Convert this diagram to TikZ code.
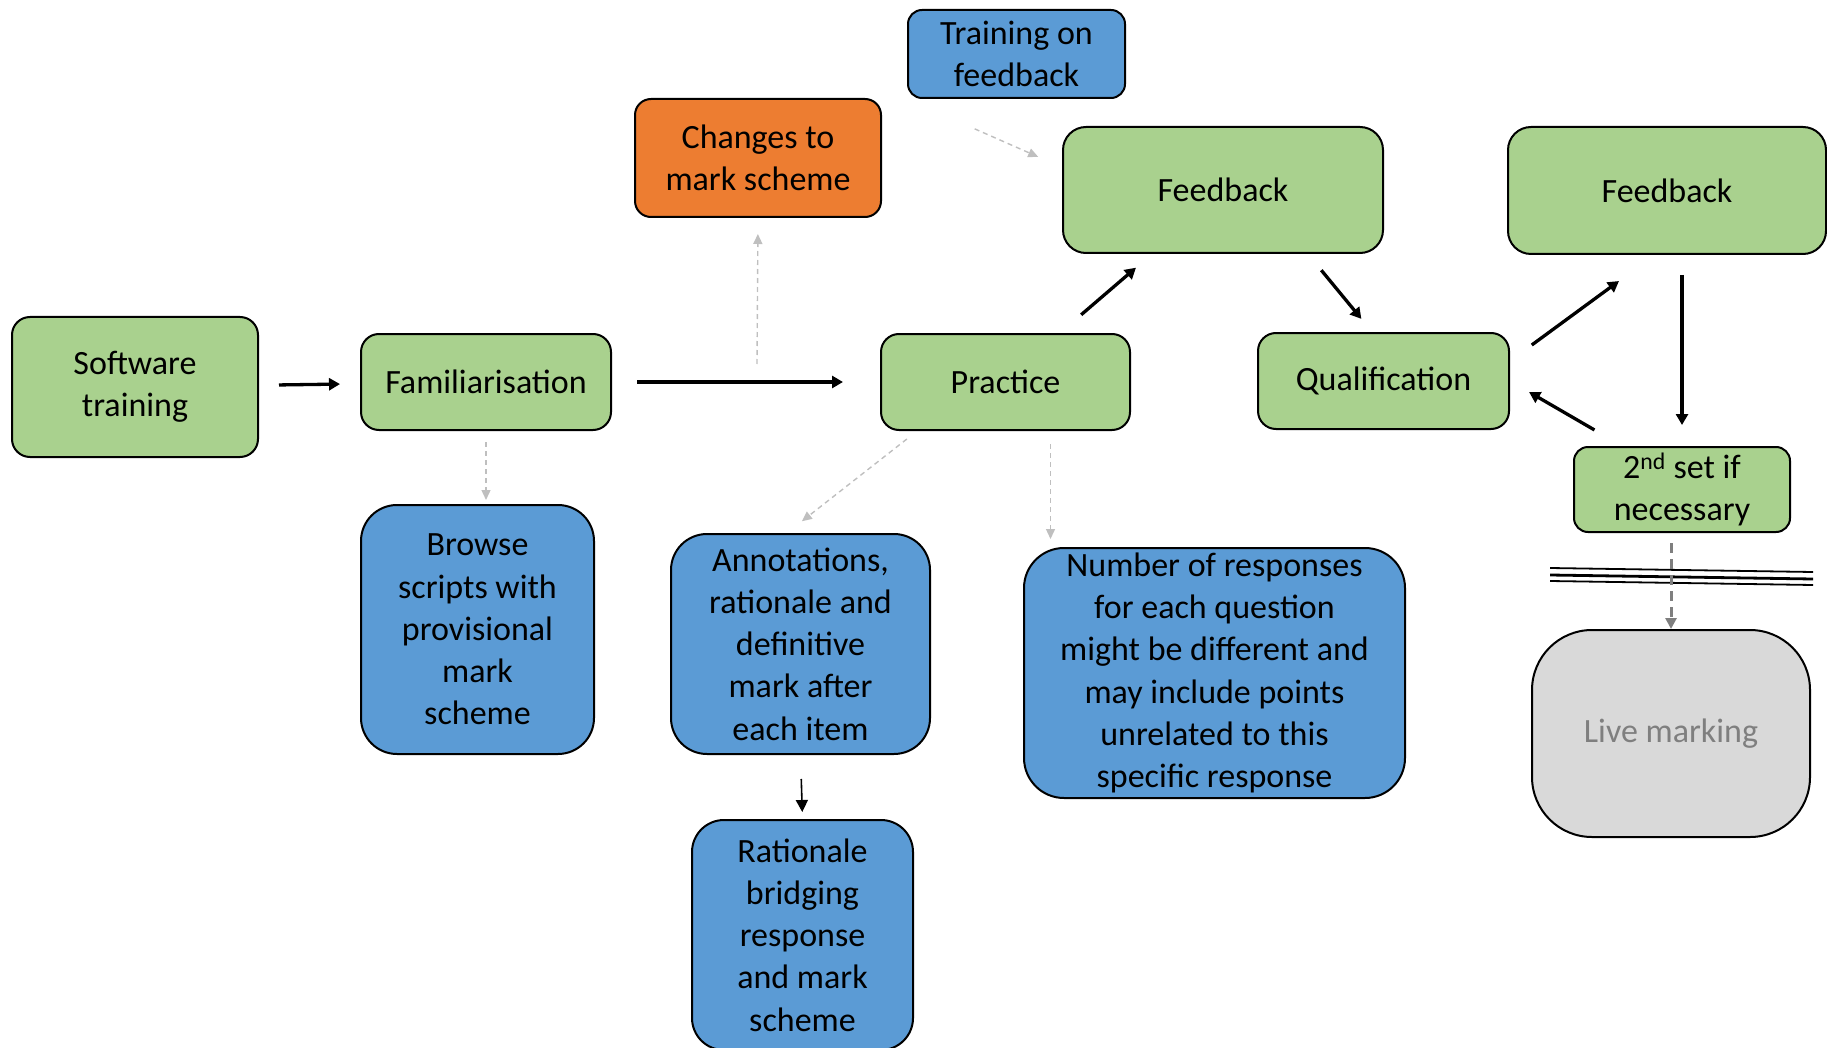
\documentclass[tikz,border=0pt]{standalone}
\usepackage{fontspec}
\setmainfont{Carlito}
\usetikzlibrary{arrows.meta}
\definecolor{stagegreen}{HTML}{A9D18E}
\definecolor{infoblue}{HTML}{5B9BD5}
\definecolor{changeorange}{HTML}{ED7D31}
\definecolor{livefill}{HTML}{D9D9D9}
\definecolor{asidegrey}{HTML}{BFBFBF}
\definecolor{livegrey}{HTML}{7F7F7F}
\begin{document}
\begin{tikzpicture}[x=1pt,y=-1pt,
        box/.style={draw=black,line width=2pt,align=center,inner sep=0pt,
            font=\fontsize{34}{42.2}\selectfont},
        stage/.style={box,fill=stagegreen,rounded corners=18pt},
        info/.style={box,fill=infoblue,rounded corners=36pt},
        flow/.style={line width=3.3pt,-{Triangle[length=11pt,width=12pt]}},
        aside/.style={asidegrey,line width=1.4pt,dash pattern=on 5pt off 4pt,
            -{Triangle[length=10pt,width=9pt]}}]
    \useasboundingbox (0,0) rectangle (1827,1048);

    % main line
    \node[stage,minimum width=246pt,minimum height=140pt] (soft) at (135,387) {Software\\training};
    \node[stage,minimum width=250pt,minimum height=96pt] (fam) at (486,382) {Familiarisation};
    \node[stage,minimum width=249pt,minimum height=96pt] (prac) at (1005.5,382) {Practice};
    \node[stage,minimum width=251pt,minimum height=96pt] (qual) at (1383.5,381) {Qualification};
    \node[stage,rounded corners=23pt,minimum width=320pt,minimum height=126pt] (fbA) at (1223,190) {Feedback};
    \node[stage,rounded corners=23pt,minimum width=318pt,minimum height=127pt] (fbB) at (1667,190.5) {Feedback};
    \node[stage,rounded corners=14pt,minimum width=216pt,minimum height=85pt] (second) at (1682,489.5) {2\textsuperscript{nd} set if\\necessary};
    \node[box,fill=livefill,text=livegrey,rounded corners=60pt,minimum width=278pt,minimum height=207pt] (live) at (1671,733.5) {Live marking};

    % side notes
    \node[info,rounded corners=14pt,minimum width=217pt,minimum height=88pt] (train) at (1016.5,54) {Training on\\feedback};
    \node[box,fill=changeorange,rounded corners=16pt,minimum width=246pt,minimum height=118pt] (changes) at (758,158) {Changes to\\mark scheme};
    \node[info,minimum width=233pt,minimum height=249pt] (browse) at (477.5,629.5) {Browse\\scripts with\\provisional\\mark\\scheme};
    \node[info,minimum width=259pt,minimum height=220pt] (annot) at (800.5,644) {Annotations,\\rationale and\\definitive\\mark after\\each item};
    \node[info,rounded corners=32pt,minimum width=221pt,minimum height=230pt] (rat) at (802.5,935) {Rationale\\bridging\\response\\and mark\\scheme};
    \node[info,rounded corners=40pt,minimum width=381pt,minimum height=250pt] (num) at (1214.5,673) {Number of responses\\for each question\\might be different and\\may include points\\unrelated to this\\specific response};

    \draw[flow,shorten <=20pt,shorten >=20pt] (soft) -- (fam);
    \draw[flow,shorten <=25pt,shorten >=37pt] (fam) -- (prac);
    \draw[flow,shorten <=28pt,shorten >=21pt] (prac.42) -- (fbA.222);
    \draw[flow,shorten <=21pt,shorten >=17pt] (fbA.323) -- (qual.103);
    \draw[flow,shorten <=27pt,shorten >=44pt] (qual.9) -- (fbB.259);
    \draw[flow,shorten <=32pt,shorten >=22pt] (second.144) -- (qual.east);
    \draw[flow,shorten <=20pt,shorten >=21pt] (second |- fbB.south) -- (second.north);
    \draw[line width=1.6pt,-{Triangle[length=12pt,width=12pt]},shorten <=24pt,shorten >=7pt] (annot.south) -- (rat.north);

    \coordinate (chgfoot) at (757,364);
    \draw[aside,shorten <=11pt,shorten >=4pt] (fam.south) -- (fam.south |- browse.north);
    \draw[aside,shorten >=16pt] (chgfoot) -- (changes.south);
    \draw[aside,shorten <=74pt,shorten >=26pt] (train.south west) -- (fbA.172);
    \draw[aside,shorten <=13pt,shorten >=19pt] (prac.209) -- (annot.97);
    \draw[aside,shorten <=13pt,shorten >=8pt] ([xshift=45pt]prac.south) -- ([xshift=45pt]prac.south |- num.north);

    % cut before live marking
    \draw[line width=1.8pt] (1550,568) -- (1813,572);
    \draw[line width=2.8pt] (1550,575) -- (1813,579);
    \draw[line width=1.8pt] (1550,581) -- (1813,585);
    \draw[livegrey,line width=3pt,dash pattern=on 10pt off 6pt,-{Triangle[length=11pt,width=11pt]},shorten <=10pt] (live |- second.south) -- (live.north);
\end{tikzpicture}
\end{document}
